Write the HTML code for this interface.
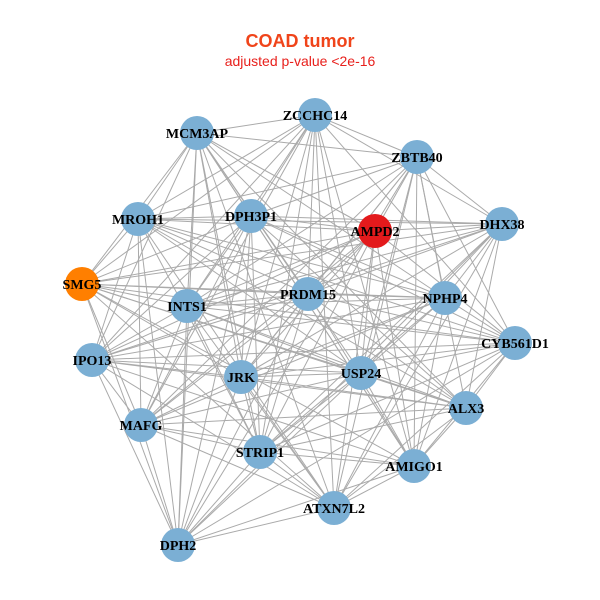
<!DOCTYPE html>
<html><head><meta charset="utf-8"><style>
body{margin:0;background:#fff;width:600px;height:600px;overflow:hidden}
svg{display:block}
.t{font-family:"Liberation Serif",serif;font-weight:bold;font-size:14px;fill:#000}
</style></head><body>
<svg id="s" width="600" height="600" xmlns="http://www.w3.org/2000/svg">
<text x="300" y="47" text-anchor="middle" font-family="Liberation Sans,sans-serif" font-weight="bold" font-size="18" fill="#f0441a">COAD tumor</text>
<text x="300" y="66" text-anchor="middle" font-family="Liberation Sans,sans-serif" font-size="14" fill="#e8201c">adjusted p-value &lt;2e-16</text>
<g id="e" stroke="#aaaaaa" stroke-width="1"></g>
<g id="n"></g>
</svg>
<script>
var N=[["ZCCHC14",315,115],["MCM3AP",197,133],["ZBTB40",417,157],["MROH1",138,219],["DPH3P1",251,216],["AMPD2",375,231,"#e31a1c"],["DHX38",502,224],["SMG5",82,284,"#ff7f00"],["INTS1",187,306],["PRDM15",308,294],["NPHP4",445,298],["CYB561D1",515,343],["IPO13",92,360],["JRK",241,377],["USP24",361,373],["ALX3",466,408],["MAFG",141,425],["STRIP1",260,452],["AMIGO1",414,466],["ATXN7L2",334,508],["DPH2",178,545]];
var ns="http://www.w3.org/2000/svg",E=document.getElementById("e"),G=document.getElementById("n");
for(var i=0;i<N.length;i++)for(var j=i+1;j<N.length;j++){
 if((i*7+j*3)%5==0)continue;
 var l=document.createElementNS(ns,"line");
 l.setAttribute("x1",N[i][1]);l.setAttribute("y1",N[i][2]);l.setAttribute("x2",N[j][1]);l.setAttribute("y2",N[j][2]);E.appendChild(l);}
N.forEach(function(d){var c=document.createElementNS(ns,"circle");c.setAttribute("cx",d[1]);c.setAttribute("cy",d[2]);c.setAttribute("r",17);c.setAttribute("fill",d[3]||"#7bafd4");G.appendChild(c);});
N.forEach(function(d){var t=document.createElementNS(ns,"text");t.setAttribute("x",d[1]);t.setAttribute("y",d[2]+5);t.setAttribute("text-anchor","middle");t.setAttribute("class","t");t.textContent=d[0];G.appendChild(t);});
</script>
</body></html>
